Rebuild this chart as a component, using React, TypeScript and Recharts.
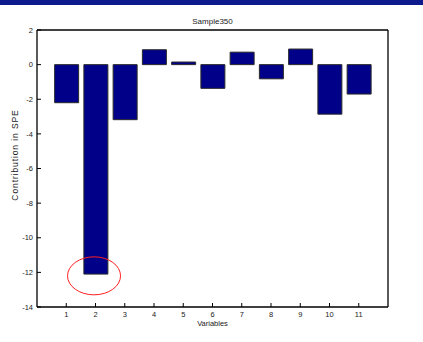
import React from 'react';
import { BarChart, Bar, XAxis, YAxis, ReferenceDot } from 'recharts';

const variables = [1, 2, 3, 4, 5, 6, 7, 8, 9, 10, 11];
const contributions = [-2.2, -12.1, -3.18, 0.86, 0.15, -1.37, 0.72, -0.82, 0.9, -2.86, -1.7];
const xTicks = [1, 2, 3, 4, 5, 6, 7, 8, 9, 10, 11];
const yTicks = [2, 0, -2, -4, -6, -8, -10, -12, -14];

const data = variables.map((v, i) => ({ variable: v, spe: contributions[i] }));

const FONT = '"Liberation Sans", Arial, sans-serif';
const tickStyle = { fill: '#222', fontSize: 7.5, fontFamily: FONT };
const axisLine = { stroke: '#000', strokeWidth: 1.3 };

const Ellipse = (props: any) => (
  <ellipse cx={props.cx} cy={props.cy} rx={26.5} ry={19} fill="none" stroke="#ff2020" strokeWidth={1} />
);

const YLabel = () => (
  <text
    x={15}
    y={155}
    transform="rotate(-90, 15, 155)"
    textAnchor="middle"
    dominantBaseline="central"
    fill="#222"
    fontSize={8.5}
    fontFamily={FONT}
    letterSpacing={0.9}
  >
    Contribution in SPE
  </text>
);

export default function App() {
  return (
    <div style={{ position: 'absolute', left: 0, top: 0, width: 423, height: 342, background: '#fff' }}>
      <div style={{ position: 'absolute', left: 0, top: 0, width: 423, height: 5, background: '#0c1a8c' }} />
      <BarChart
        width={423}
        height={342}
        data={data}
        margin={{ top: 20, right: 25, bottom: 15, left: 17 }}
      >
        <XAxis
          dataKey="variable"
          type="number"
          domain={[0, 12]}
          ticks={xTicks}
          height={20}
          tickSize={-4}
          tickMargin={8.5}
          tick={tickStyle}
          axisLine={axisLine}
          tickLine={{ stroke: '#000' }}
          label={{ value: 'Variables', position: 'insideBottom', offset: 1, style: tickStyle }}
        />
        <XAxis
          xAxisId="top"
          dataKey="variable"
          type="number"
          orientation="top"
          domain={[0, 12]}
          ticks={xTicks}
          height={10}
          tickSize={-4}
          tick={false}
          axisLine={axisLine}
          tickLine={{ stroke: '#000' }}
          label={{ value: 'Sample350', position: 'insideTop', offset: -2, style: { ...tickStyle, fontSize: 8 } }}
        />
        <YAxis
          type="number"
          domain={[-14, 2]}
          ticks={yTicks}
          width={20}
          tickSize={-4}
          tickMargin={8}
          tick={tickStyle}
          axisLine={axisLine}
          tickLine={{ stroke: '#000' }}
          label={{ content: YLabel }}
        />
        <YAxis
          yAxisId="r"
          type="number"
          orientation="right"
          domain={[-14, 2]}
          ticks={yTicks}
          width={10}
          tickSize={-4}
          tick={false}
          axisLine={axisLine}
          tickLine={{ stroke: '#000' }}
        />
        <Bar dataKey="spe" fill="#000088" stroke="#2a2a2a" strokeWidth={1} barSize={24} isAnimationActive={false} />
        <ReferenceDot x={1.95} y={-12.2} r={0} shape={Ellipse} />
      </BarChart>
    </div>
  );
}
